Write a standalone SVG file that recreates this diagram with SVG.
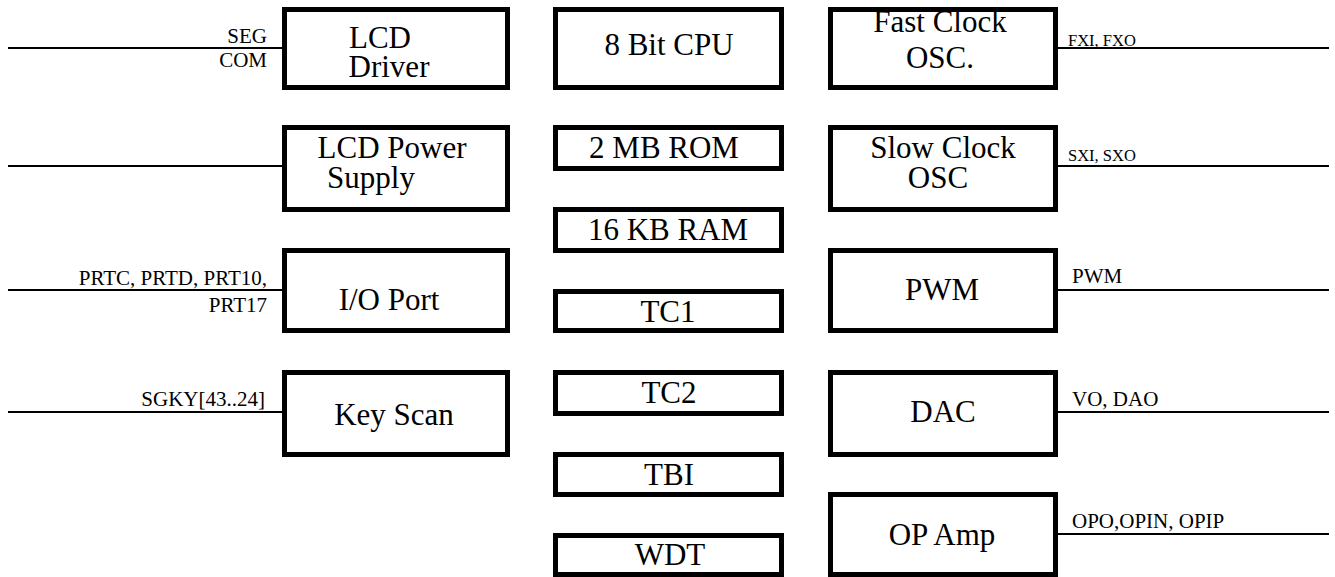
<svg xmlns="http://www.w3.org/2000/svg" width="1335" height="577" viewBox="0 0 1335 577" font-family="Liberation Serif, Times New Roman, DejaVu Serif, serif">
<style>
.box{fill:#fff;stroke:#000;stroke-width:5}
.ln{stroke:#000;stroke-width:2;fill:none}
text{font-family:'Liberation Serif','Times New Roman','DejaVu Serif',serif;fill:#000}
.big{font-size:31px;text-anchor:middle}
.sm{font-size:21px}
.xs{font-size:16.5px}
.r{text-anchor:end}
</style>
<rect width="1335" height="577" fill="#fff"/>
<g id="connectors">
<line class="ln" x1="8" y1="48" x2="284" y2="48"/>
<line class="ln" x1="8" y1="166" x2="284" y2="166"/>
<line class="ln" x1="8" y1="290" x2="284" y2="290"/>
<line class="ln" x1="8" y1="412" x2="284" y2="412"/>
<line class="ln" x1="1056" y1="48" x2="1329" y2="48"/>
<line class="ln" x1="1056" y1="166" x2="1329" y2="166"/>
<line class="ln" x1="1056" y1="290" x2="1329" y2="290"/>
<line class="ln" x1="1056" y1="412" x2="1329" y2="412"/>
<line class="ln" x1="1056" y1="534" x2="1329" y2="534"/>
<text class="sm r" x="267" y="43">SEG</text>
<text class="sm r" x="267" y="67">COM</text>
<text class="sm r" x="267" y="285">PRTC, PRTD, PRT10,</text>
<text class="sm r" x="267" y="312">PRT17</text>
<text class="sm r" x="265" y="406">SGKY[43..24]</text>
<text class="xs" x="1068" y="46">FXI, FXO</text>
<text class="xs" x="1068" y="161">SXI, SXO</text>
<text class="sm" x="1072" y="283">PWM</text>
<text class="sm" x="1072" y="406">VO, DAO</text>
<text class="sm" x="1072" y="528">OPO,OPIN, OPIP</text>
</g>
<g id="lcd-driver"><rect class="box" x="284.5" y="9.5" width="223" height="78"/><text class="big" x="380" y="48">LCD</text><text class="big" x="389" y="77">Driver</text></g>
<g id="lcd-power"><rect class="box" x="284.5" y="127.5" width="223" height="82"/><text class="big" x="392" y="158">LCD Power</text><text class="big" x="371" y="188">Supply</text></g>
<g id="io-port"><rect class="box" x="284.5" y="250.5" width="223" height="80"/><text class="big" x="389" y="310">I/O Port</text></g>
<g id="key-scan"><rect class="box" x="284.5" y="372.5" width="223" height="82"/><text class="big" x="394" y="425">Key Scan</text></g>
<g id="cpu"><rect class="box" x="555.5" y="9.5" width="226" height="78"/><text class="big" x="669" y="55">8 Bit CPU</text></g>
<g id="rom"><rect class="box" x="555.5" y="127.5" width="226" height="41"/><text class="big" x="664" y="158">2 MB ROM</text></g>
<g id="ram"><rect class="box" x="555.5" y="209.5" width="226" height="41"/><text class="big" x="668" y="240">16 KB RAM</text></g>
<g id="tc1"><rect class="box" x="555.5" y="291.5" width="226" height="39"/><text class="big" x="668" y="322">TC1</text></g>
<g id="tc2"><rect class="box" x="555.5" y="372.5" width="226" height="41"/><text class="big" x="669" y="403">TC2</text></g>
<g id="tbi"><rect class="box" x="555.5" y="454.5" width="226" height="40"/><text class="big" x="669" y="485">TBI</text></g>
<g id="wdt"><rect class="box" x="555.5" y="535.5" width="226" height="39"/><text class="big" x="670" y="565">WDT</text></g>
<g id="fast-clock"><rect class="box" x="830.5" y="9.5" width="225" height="78"/><text class="big" x="940" y="32">Fast Clock</text><text class="big" x="940" y="68">OSC.</text></g>
<g id="slow-clock"><rect class="box" x="830.5" y="127.5" width="225" height="82"/><text class="big" x="943" y="158">Slow Clock</text><text class="big" x="938" y="188">OSC</text></g>
<g id="pwm"><rect class="box" x="830.5" y="250.5" width="225" height="80"/><text class="big" x="942" y="300">PWM</text></g>
<g id="dac"><rect class="box" x="830.5" y="372.5" width="225" height="82"/><text class="big" x="943" y="422">DAC</text></g>
<g id="op-amp"><rect class="box" x="830.5" y="494.5" width="225" height="80"/><text class="big" x="942" y="545">OP Amp</text></g>
</svg>
